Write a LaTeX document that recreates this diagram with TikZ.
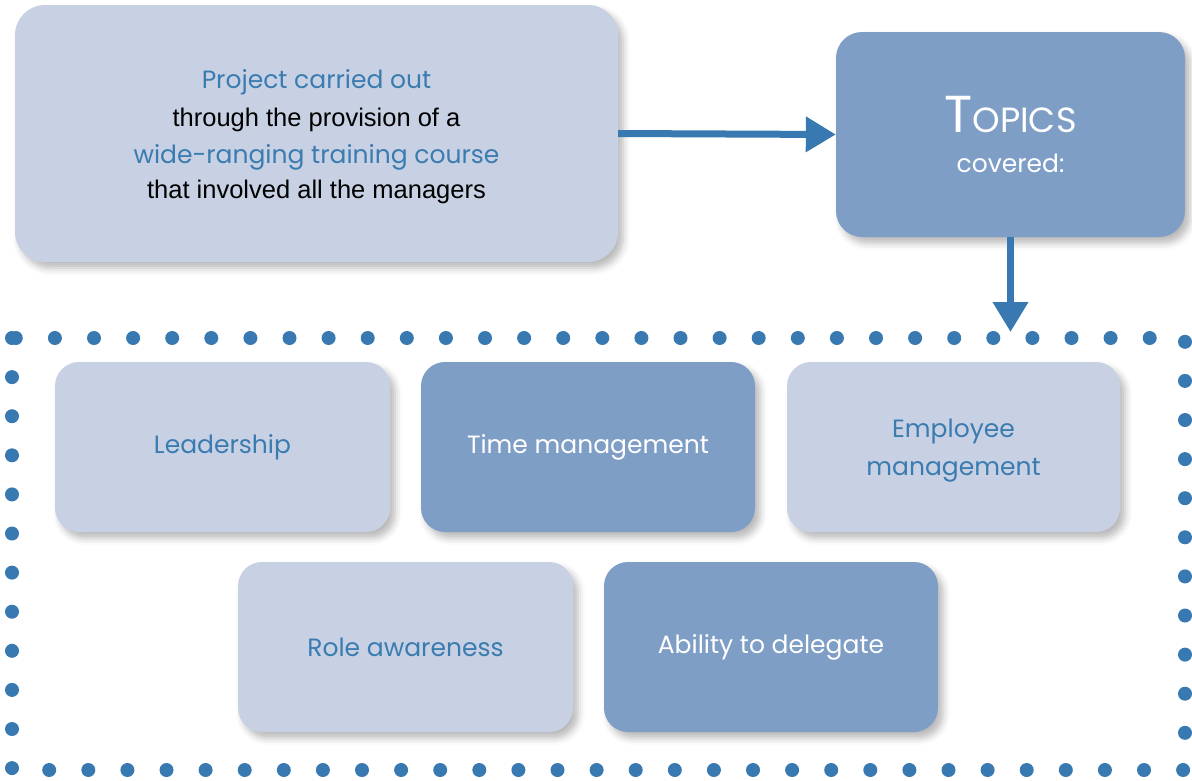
\documentclass[tikz,border=0pt]{standalone}
\usepackage{fontspec}
\setmainfont{Liberation Sans}
\newfontfamily\geo{Poppins}
\usetikzlibrary{arrows.meta,positioning,shadows.blur}
\definecolor{pale}{HTML}{C8D1E4}
\definecolor{deep}{HTML}{7E9EC6}
\definecolor{ink}{HTML}{3A7BB0}
\definecolor{dotblue}{HTML}{3779B0}
\newcommand{\fs}[1]{\fontsize{#1}{#1}\selectfont}
\tikzset{
  tile/.style={fill=#1,rounded corners=24pt,align=center,inner sep=0pt,
    blur shadow={shadow xshift=5pt,shadow yshift=-6pt,shadow blur radius=7pt,shadow opacity=28}},
  palebox/.style={tile=pale,text=ink,font=\geo\fs{25}},
  deepbox/.style={tile=deep,text=white,font=\geo\fs{25}},
  flow/.style={-{Triangle[length=30pt,width=34pt]},line width=7pt,draw=dotblue},
  dotframe/.style={draw=dotblue,line width=14pt,line cap=round,dash pattern=on 0pt off 39.1pt}
}
\begin{document}
\begin{tikzpicture}[x=1pt,y=-1pt]
    \useasboundingbox (0,0) rectangle (1192,780);

    % dotted frame round the topics
    \draw[dotframe] (12,338) rectangle (1185,770);

    \node[tile=pale,rounded corners=30pt,minimum width=603pt,minimum height=257pt] (project) at (316.5,133.5) {};
    \node[align=center,inner sep=0pt] (projecttext) at (316.5,136.5)
      {{\geo\fs{25}\color{ink}Project carried out}\\[12pt]
       {\fs{25.5}through the provision of a}\\[12pt]
       {\geo\fs{25}\color{ink}wide-ranging training course}\\[9pt]
       {\fs{25.5}that involved all the managers}};
    \node[deepbox,rounded corners=26pt,minimum width=349pt,minimum height=205pt] (topics) at (1010.5,134.5)
      {{\fs{52}T}{\fs{35}OPICS}\\[15pt]{\fs{25}covered:}};

    \node[palebox,minimum width=335pt,minimum height=170pt] (leader) at (222.5,447) {Leadership};
    \node[deepbox,minimum width=334pt,minimum height=170pt] (timemgmt) at (588,447) {Time management};
    \node[palebox,minimum width=333pt,minimum height=170pt] (employee) at (953.5,447) {};
    \node[align=center,inner sep=0pt,text=ink,font=\geo\fs{25}] (employeetext) at (953.5,450.5) {Employee\\[13pt]management};
    \node[palebox,minimum width=335pt,minimum height=170pt] (role) at (405.5,647) {Role awareness};
    \node[deepbox,minimum width=334pt,minimum height=170pt] (delegate) at (771,647) {Ability to delegate};

    \coordinate (framehit) at (1010.5,332);
    \draw[flow] (project.east) -- (topics.west);
    \draw[flow] (topics.south) -- (framehit);
  \end{tikzpicture}
\end{document}
